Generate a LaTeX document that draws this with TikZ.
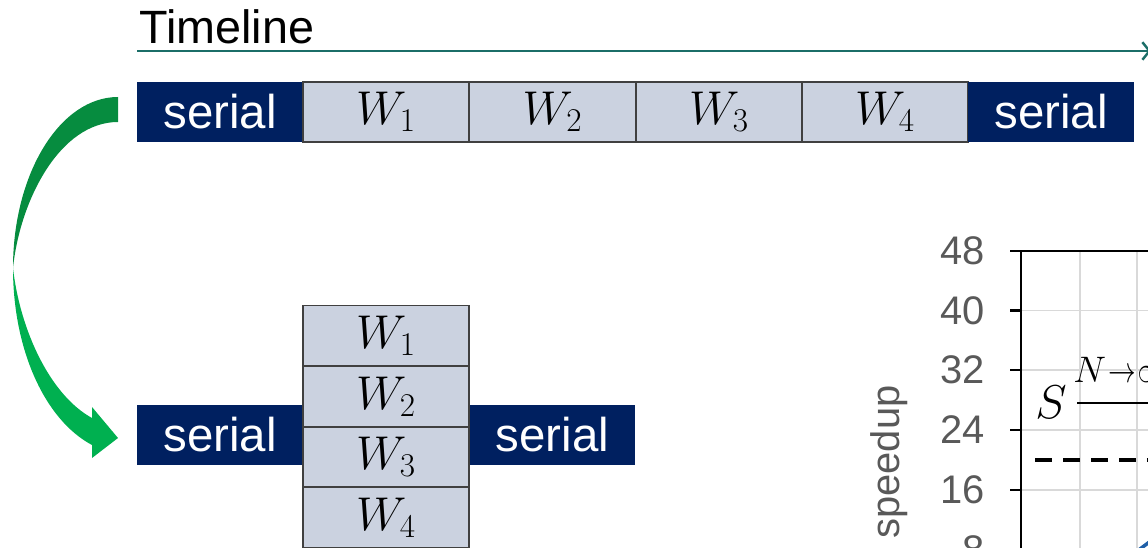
\documentclass[tikz,border=0pt]{standalone}
\usepackage{fix-cm}
\usepackage{graphicx}
\usepackage{fontspec}
\setmainfont{Liberation Sans}
\usetikzlibrary{arrows.meta}
\definecolor{navy}{HTML}{002060}
\definecolor{wfill}{HTML}{CBD2E0}
\definecolor{tealline}{HTML}{1B6E68}
\definecolor{gdark}{HTML}{068C3F}
\definecolor{glight}{HTML}{00B050}
\definecolor{axgray}{HTML}{595959}
\definecolor{gridc}{HTML}{D9D9D9}
\definecolor{serblue}{HTML}{2060A8}
\tikzset{
  cell/.style={minimum width=3.32cm, minimum height=1.2cm, inner sep=0pt, outer sep=0pt,
    font=\fontsize{27}{30}\selectfont},
  serialbox/.style={cell, fill=navy, text=white},
  wbox/.style={cell, fill=wfill, draw=black!75, line width=0.6pt},
  ticklbl/.style={font=\fontsize{22.7}{26}\selectfont, text=axgray, anchor=east, inner sep=0pt},
  gridline/.style={draw=gridc, line width=0.9pt},
  axisline/.style={draw=black, line width=1.2pt},
}
\begin{document}
\begin{tikzpicture}[x=0.02cm,y=-0.02cm]
\useasboundingbox (0,0) rectangle (1148,547);

% timeline
\node[anchor=base west, inner sep=0pt, font=\fontsize{26.6}{30}\selectfont] (tl) at (139,44) {Timeline};
\coordinate (tlstart) at (137,51);
\coordinate (tlend) at (1151,51);
\draw[tealline, line width=1.6pt, -{Straight Barb[length=4pt,width=10pt,line width=1.4pt]}] (tlstart) -- (tlend);

% top row
\node[serialbox] (s1) at (220,112) {serial};
\node[wbox] (w1) at (386,112) {$W_1$};
\node[wbox] (w2) at (552.5,112) {$W_2$};
\node[wbox] (w3) at (719,112) {$W_3$};
\node[wbox] (w4) at (885,112) {$W_4$};
\node[serialbox] (s2) at (1051,112) {serial};

% bottom row
\node[serialbox] (bs1) at (220,435) {serial};
\node[serialbox] (bs2) at (552.5,435) {serial};
\node[wbox] (bw1) at (386,335.5) {$W_1$};
\node[wbox] (bw2) at (386,396.5) {$W_2$};
\node[wbox] (bw3) at (386,457) {$W_3$};
\node[wbox] (bw4) at (386,517.5) {$W_4$};

% green curved arrow (back part)
\fill[gdark] (118,97) -- (118,122) .. controls (60,122) and (20,200) .. (13,268)
  .. controls (13,173.6) and (60,97) .. (118,97) -- cycle;
% green curved arrow (front part)
\fill[glight] (13,268) .. controls (13,350) and (45,420) .. (92,445)
  -- (92,458) -- (118,438) -- (92,407) -- (92,418)
  .. controls (50,395) and (20,330) .. (13,268) -- cycle;

% chart
\draw[gridline] (1021,310.5) -- (1160,310.5);
\draw[gridline] (1021,370) -- (1160,370);
\draw[gridline] (1021,430) -- (1160,430);
\draw[gridline] (1021,490) -- (1160,490);
\draw[gridline] (1080,251) -- (1080,560);
\draw[gridline] (1137,251) -- (1137,560);
\draw[axisline] (1010,251) -- (1160,251);
\draw[axisline] (1021,251) -- (1021,560);
\foreach \yy in {310.5,370,430,490,550} \draw[axisline] (1010,\yy) -- (1021,\yy);
\node[ticklbl] (t48) at (985,251) {48};
\node[ticklbl] (t40) at (985,310.5) {40};
\node[ticklbl] (t32) at (985,370) {32};
\node[ticklbl] (t24) at (985,430) {24};
\node[ticklbl] (t16) at (985,490) {16};
\node[ticklbl] (t8) at (985,550) {8};
\node[rotate=90, inner sep=0pt, font=\fontsize{22.7}{26}\selectfont, text=axgray] (ylab) at (889,462) {speedup};

\node[inner sep=0pt, font=\fontsize{27}{30}\selectfont] (S) at (1051,402) {$S$};
\coordinate (limA) at (1077,403);
\coordinate (limB) at (1170,403);
\draw[line width=1.5pt] (limA) -- (limB);
\node[anchor=west, inner sep=0pt, font=\fontsize{21}{24}\selectfont] (lim) at (1073,370) {$N\mkern1mu\scalebox{0.75}[1]{$\rightarrow$}\mkern1mu\infty$};
\coordinate (dashA) at (1035,460);
\coordinate (dashB) at (1170,460);
\draw[line width=2.6pt, dash pattern=on 0.33cm off 0.23cm] (dashA) -- (dashB);
\coordinate (blA) at (1136,552);
\coordinate (blB) at (1152,540);
\draw[serblue, line width=2pt] (blA) -- (blB);
\end{tikzpicture}
\end{document}
